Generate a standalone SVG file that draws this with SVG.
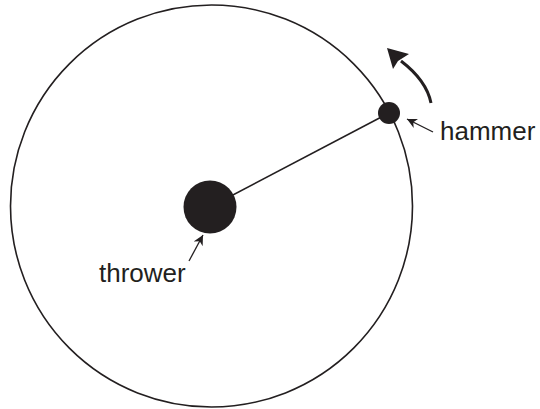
<svg xmlns="http://www.w3.org/2000/svg" width="540" height="409" viewBox="0 0 540 409">
<style>
.lbl{font-family:"Liberation Sans",Arial,sans-serif;font-size:26px;fill:#231f20}
.thin{stroke:#231f20;stroke-width:1.3;fill:none}
</style>
<defs>
<marker id="sm" viewBox="0 0 10 10" refX="10" refY="5" markerWidth="10" markerHeight="10" markerUnits="userSpaceOnUse" orient="auto">
<path d="M0,0 L10,5 L0,10 L3,5 Z" fill="#231f20"/>
</marker>
</defs>
<rect width="540" height="409" fill="#fff"/>
<g id="path-circle"><circle cx="211.5" cy="206" r="201" fill="none" stroke="#231f20" stroke-width="1.6"/></g>
<g id="connectors">
<line x1="210" y1="207" x2="389" y2="113" stroke="#231f20" stroke-width="1.6"/>
<line class="thin" x1="433" y1="132" x2="407" y2="119" marker-end="url(#sm)"/>
<line class="thin" x1="189" y1="261" x2="203" y2="235" marker-end="url(#sm)"/>
<path d="M431,103 C428,88 418,74 401,61" fill="none" stroke="#231f20" stroke-width="3"/>
<path d="M387,48 L409,54 L398,61 L393,69 Z" fill="#231f20"/>
</g>
<g id="thrower"><circle cx="210" cy="207" r="26.5" fill="#231f20"/><text class="lbl" x="99" y="282">thrower</text></g>
<g id="hammer"><circle cx="389" cy="113" r="11" fill="#231f20"/><text class="lbl" x="440" y="140">hammer</text></g>
</svg>
